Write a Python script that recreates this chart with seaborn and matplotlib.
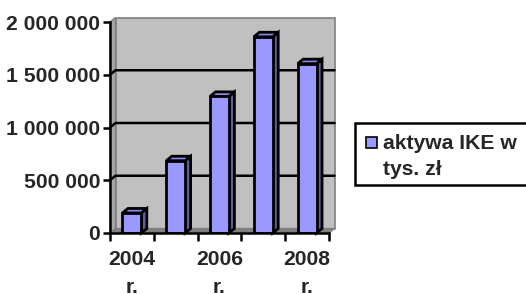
import numpy as np
import pandas as pd
import seaborn as sns
import matplotlib
matplotlib.use("Agg")
import matplotlib.pyplot as plt
from matplotlib.patches import Polygon, Rectangle
from matplotlib.ticker import FuncFormatter

years = ["2004 r.", "2005 r.", "2006 r.", "2007 r.", "2008 r."]
assets = [190000, 685000, 1295000, 1860000, 1605000]
tick_labels = ["2004\nr.", "", "2006\nr.", "", "2008\nr."]
y_ticks = [0, 500000, 1000000, 1500000, 2000000]
legend_label = "aktywa IKE w\ntys. zł"

df = pd.DataFrame({"rok": years, "aktywa": assets})

sns.set_style("white")
plt.rcParams["font.family"] = ["Liberation Sans", "DejaVu Sans"]
plt.rcParams["font.weight"] = "bold"
fs = 15.2

W, H = 526, 294
fig = plt.figure(figsize=(W / 100, H / 100), dpi=100)
ax = fig.add_axes([110 / W, 1 - 233 / H, 219 / W, 211 / H])
ax.set_xlim(-0.5, 4.5)
ax.set_ylim(0, 2000000)
ax.patch.set_alpha(0)

# depth of the 3d effect in data units
dx = 5.5 / 219 * 5
dy = 4.5 / 211 * 2000000

# walls
ax.add_patch(Rectangle((-0.5 + dx, dy), 5, 2000000, facecolor="#C0C0C0",
                       edgecolor="#808080", lw=1.2, zorder=0, clip_on=False))
ax.add_patch(Polygon([(-0.5, 0), (-0.5 + dx, dy), (-0.5 + dx, 2000000 + dy),
                      (-0.5, 2000000)], closed=True, facecolor="#A8A8A8",
                     edgecolor="#808080", lw=1, zorder=0, clip_on=False))
ax.add_patch(Polygon([(-0.5, 0), (4.5, 0), (4.5 + dx, dy), (-0.5 + dx, dy)],
                     closed=True, facecolor="#808080", edgecolor="#808080",
                     lw=1, zorder=0, clip_on=False))
for v in y_ticks[1:-1]:
    ax.plot([-0.5, -0.5 + dx, 4.5 + dx], [v, v + dy, v + dy], color="black",
            lw=1.8, zorder=1, clip_on=False)

sns.barplot(data=df, x="rok", y="aktywa", color="#9999FF", saturation=1,
            width=0.43, edgecolor="black", linewidth=2, ax=ax, zorder=3)

for p in ax.patches:
    if not isinstance(p, Rectangle) or p.get_zorder() != 3:
        continue
    x0 = p.get_x()
    x1 = x0 + p.get_width()
    h = p.get_height()
    ax.add_patch(Polygon([(x1, 0), (x1 + dx, dy), (x1 + dx, h + dy), (x1, h)],
                         closed=True, facecolor="#5F5F99", edgecolor="black",
                         lw=2, zorder=2.9, clip_on=False, joinstyle="miter"))
    ax.add_patch(Polygon([(x0, h), (x0 + dx, h + dy), (x1 + dx, h + dy), (x1, h)],
                         closed=True, facecolor="#8A8AE6", edgecolor="black",
                         lw=2, zorder=2.9, clip_on=False, joinstyle="miter"))

for s in ["top", "right"]:
    ax.spines[s].set_visible(False)
for s in ["left", "bottom"]:
    ax.spines[s].set_color("black")
    ax.spines[s].set_linewidth(1.8)
    ax.spines[s].set_zorder(4)

ax.set_yticks(y_ticks)
ax.yaxis.set_major_formatter(FuncFormatter(lambda v, _: f"{int(v):,}".replace(",", " ")))
ax.set_xticks(range(5))
ax.set_xticklabels(tick_labels)
ax.set_xticks(np.arange(-0.5, 5, 1), minor=True)
ax.tick_params(axis="x", which="major", length=0, pad=12, labelsize=fs)
ax.tick_params(axis="x", which="minor", length=6, width=1.8, color="black",
               direction="out", bottom=True)
ax.tick_params(axis="y", length=5, width=1.8, color="black", direction="out",
               left=True, pad=2, labelsize=fs)
for lab in ax.get_xticklabels():
    lab.set_linespacing(1.6)
    lab.set_fontweight("bold")
for lab in ax.get_yticklabels():
    lab.set_fontweight("bold")
ax.set_xlabel("")
ax.set_ylabel("")

# legend
fig.add_artist(Rectangle((355 / W, 1 - 185 / H), 200 / W, 62 / H,
                         transform=fig.transFigure, facecolor="white",
                         edgecolor="black", lw=1.8))
fig.add_artist(Rectangle((366 / W, 1 - 148 / H), 11 / W, 11 / H,
                         transform=fig.transFigure, facecolor="#9999FF",
                         edgecolor="black", lw=1.2))
fig.text(383 / W, 1 - 134 / H, legend_label, fontsize=fs, fontweight="bold",
         va="top", ha="left", linespacing=1.45)

fig.savefig("out.png", dpi=100)
